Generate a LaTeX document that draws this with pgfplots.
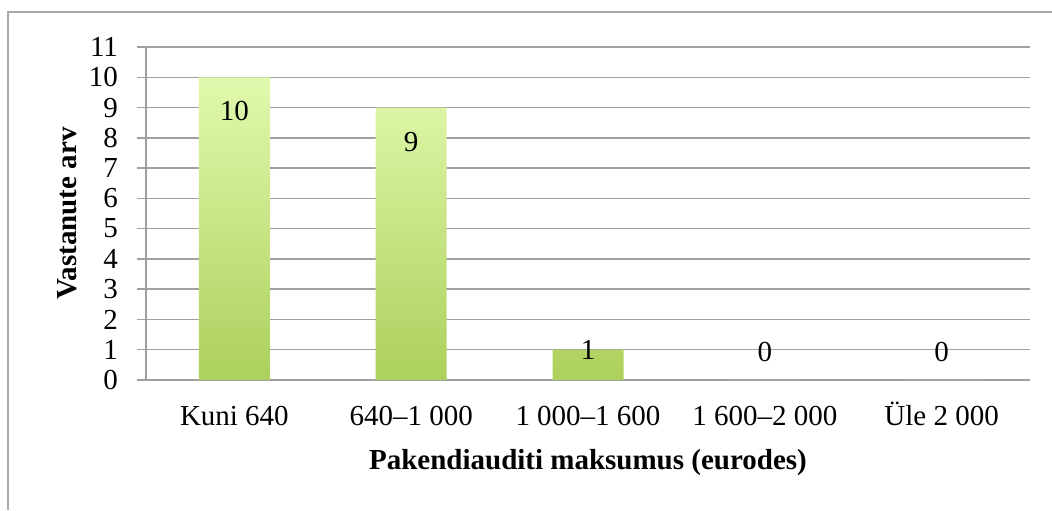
\documentclass[border=0pt]{standalone}
\usepackage{pgfplots}
\pgfplotsset{compat=1.18}
\usepackage{fontspec}
\setmainfont{Liberation Serif}
\definecolor{barTop}{RGB}{225,249,173}
\definecolor{barBot}{RGB}{172,208,92}
\definecolor{gridc}{RGB}{160,160,160}
\definecolor{framec}{RGB}{170,170,170}
\begin{document}
\fontsize{14.5}{17}\selectfont
\begin{tikzpicture}
\path[use as bounding box] (0,0) rectangle (526pt,255pt);
\draw[framec, line width=0.9pt] (4pt,0) -- (4pt,249pt) -- (526pt,249pt);
\begin{axis}[
  at={(73pt,65pt)}, anchor=south west,
  scale only axis, width=442pt, height=166.5pt,
  xmin=-0.5, xmax=4.5, ymin=0, ymax=11,
  axis lines=left, axis line style={-, gridc, line width=0.75pt},
  xtick={0,1,2,3,4},
  xticklabels={Kuni 640, 640–1 000, 1 000–1 600, 1 600–2 000, Üle 2 000},
  ytick={0,1,...,11},
  ymajorgrids, grid style={gridc, line width=0.75pt},
  tick align=outside, major tick length=4.5pt,
  ytick style={gridc, line width=0.75pt},
  xtick style={draw=none},
  /pgf/number format/assume math mode=true,
  tick label style={font=\fontsize{14.5}{17}\selectfont},
  yticklabel style={anchor=east, xshift=-4.5pt},
  xticklabel style={anchor=base, yshift=-18pt},
  xlabel={\bfseries Pakendiauditi maksumus (eurodes)},
  ylabel={\bfseries Vastanute arv},
  label style={font=\fontsize{14.5}{17}\selectfont},
  xlabel style={at={(axis description cs:0.5,-0.249)}, anchor=center},
  ylabel style={at={(axis description cs:-0.0894,0.5)}, anchor=center},
  clip=false,
]
\addplot[ybar, bar width=35.5pt, draw=none, top color=barTop, bottom color=barBot,
  visualization depends on=y \as \yval,
  nodes near coords,
  every node near coord/.append style={anchor=center, text=black,
    font=\fontsize{14.5}{17}\selectfont,
    yshift={ifthenelse(\yval>5,-17,ifthenelse(\yval>0.5,0,14))*1pt}},
] coordinates {(0,10) (1,9) (2,1) (3,0) (4,0)};
\end{axis}
\end{tikzpicture}
\end{document}
